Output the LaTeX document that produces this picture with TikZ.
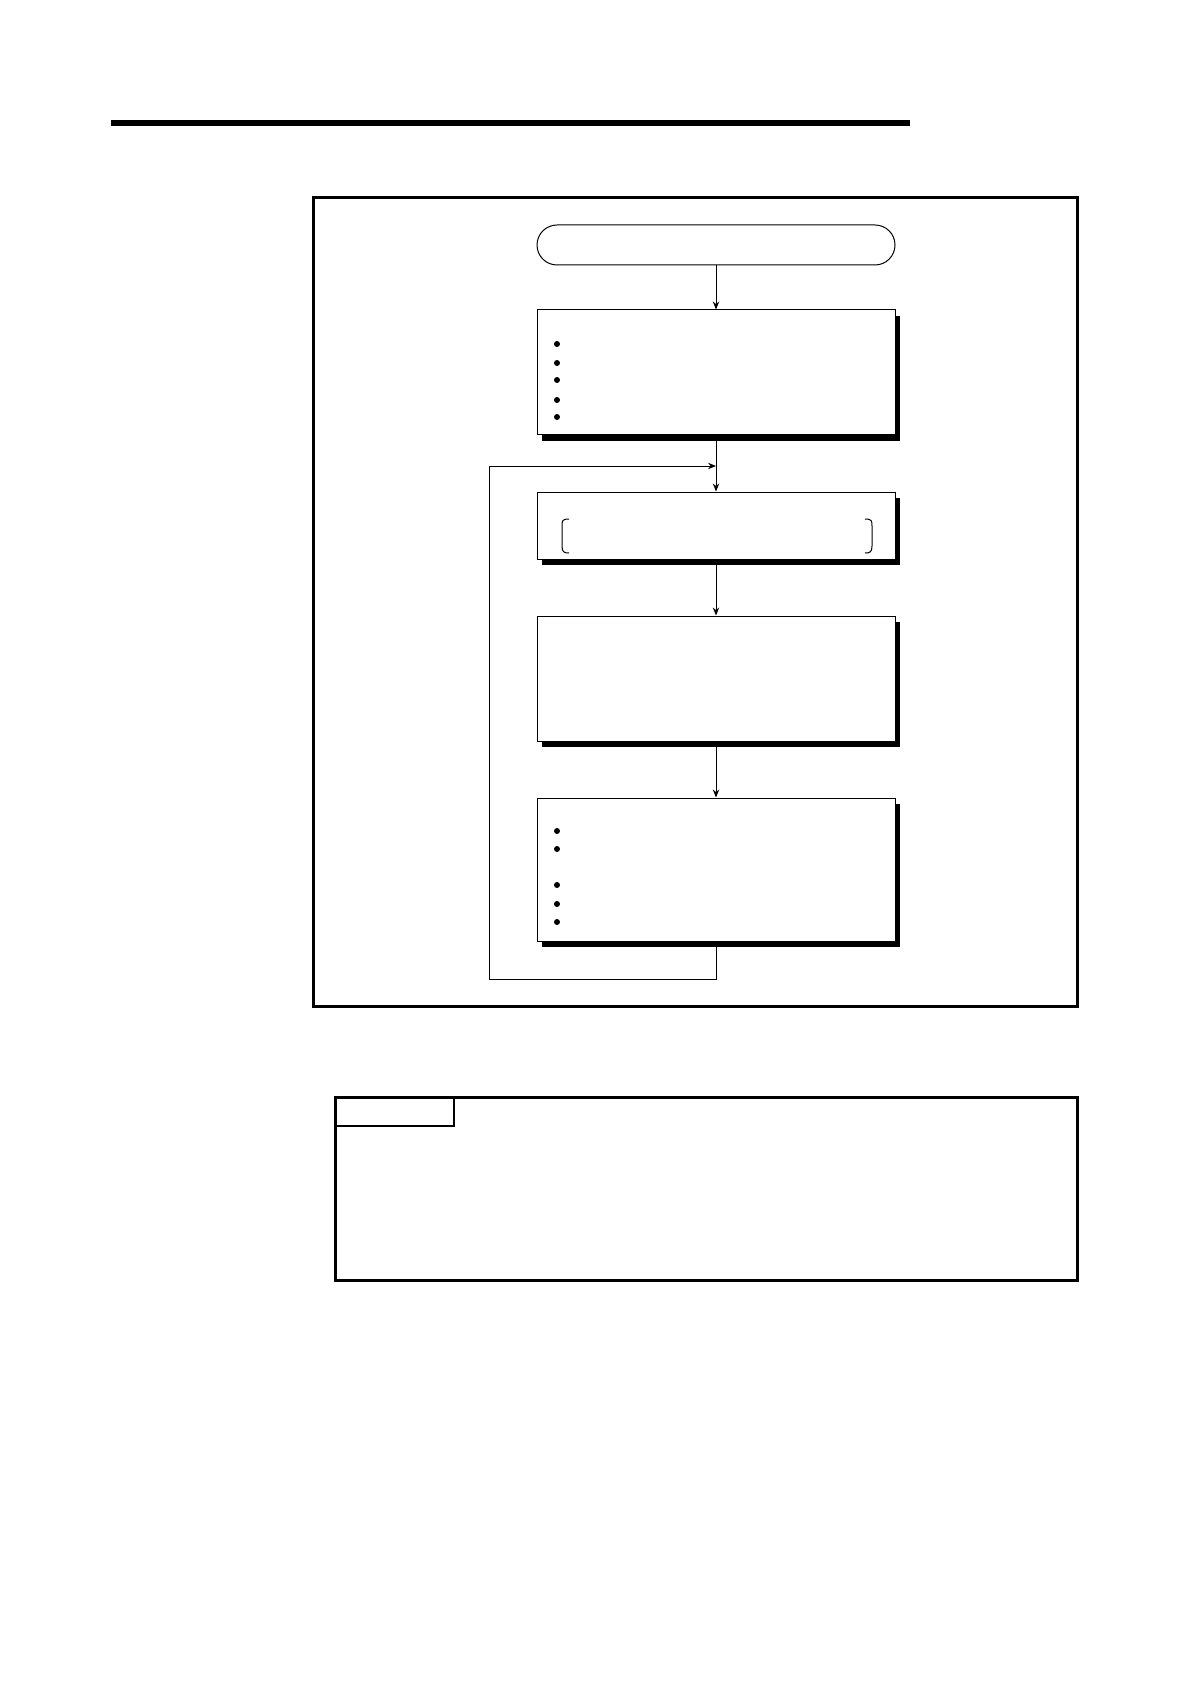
\documentclass[tikz,border=0pt]{standalone}
\usetikzlibrary{arrows.meta,shadows}
\begin{document}
\begin{tikzpicture}[x=0.5pt,y=-0.5pt,
  boxstyle/.style={draw,line width=0.5pt,fill=white,rectangle,minimum width=179pt,inner sep=0pt,
    general shadow={shadow xshift=2.5pt,shadow yshift=-3pt,fill=black}},
  termstyle/.style={draw,line width=0.5pt,fill=white,rectangle,rounded corners=10pt,minimum width=179pt,minimum height=20pt,inner sep=0pt},
  arr/.style={line width=0.5pt,-{Stealth[length=4pt,width=3.2pt]}},
  thinline/.style={line width=0.5pt},
  bulletdot/.style={fill=black}]
\useasboundingbox (0,0) rectangle (1190,1684);
% top rule
\draw[line width=3pt] (111,123) -- (910,123);
% outer frame
\draw[line width=1.5pt] (313,198) rectangle (1077,1006);
% nodes
\node[termstyle] (t) at (716,245) {};
\node[boxstyle,minimum height=62.5pt] (b1) at (716,372.5) {};
\node[boxstyle,minimum height=33.5pt] (b2) at (716,525.5) {};
\node[boxstyle,minimum height=62.5pt] (b3) at (716,678.5) {};
\node[boxstyle,minimum height=71.5pt] (b4) at (716,869.5) {};
% bullets box1
\foreach \yy in {344,363,380,400,417} \fill[bulletdot] (557,\yy) circle (1.5pt);
% bullets box4
\foreach \yy in {831,849,885,904,922} \fill[bulletdot] (557,\yy) circle (1.5pt);
% brackets box2
\draw[thinline] (569,519) .. controls (562,519) and (562,521) .. (562,526) -- (562,546) .. controls (562,552) and (564,553) .. (569,553);
\draw[thinline] (865,519) .. controls (872,519) and (872,521) .. (872,526) -- (872,546) .. controls (872,552) and (870,553) .. (865,553);
% connectors
\coordinate (j) at (716,466);
\coordinate (lt) at (489,466);
\coordinate (lb) at (489,979);
\draw[arr] (t.south) -- (b1.north);
\draw[arr] (b1.south) -- (b2.north);
\draw[arr] (b2.south) -- (b3.north);
\draw[arr] (b3.south) -- (b4.north);
\draw[arr] (b4.south) |- (lb) -- (lt) -- (j);
% lower box
\draw[line width=1.5pt] (335,1097) rectangle (1077,1280);
\draw[line width=0.8pt] (335,1126) -| (454,1097);
\end{tikzpicture}
\end{document}
